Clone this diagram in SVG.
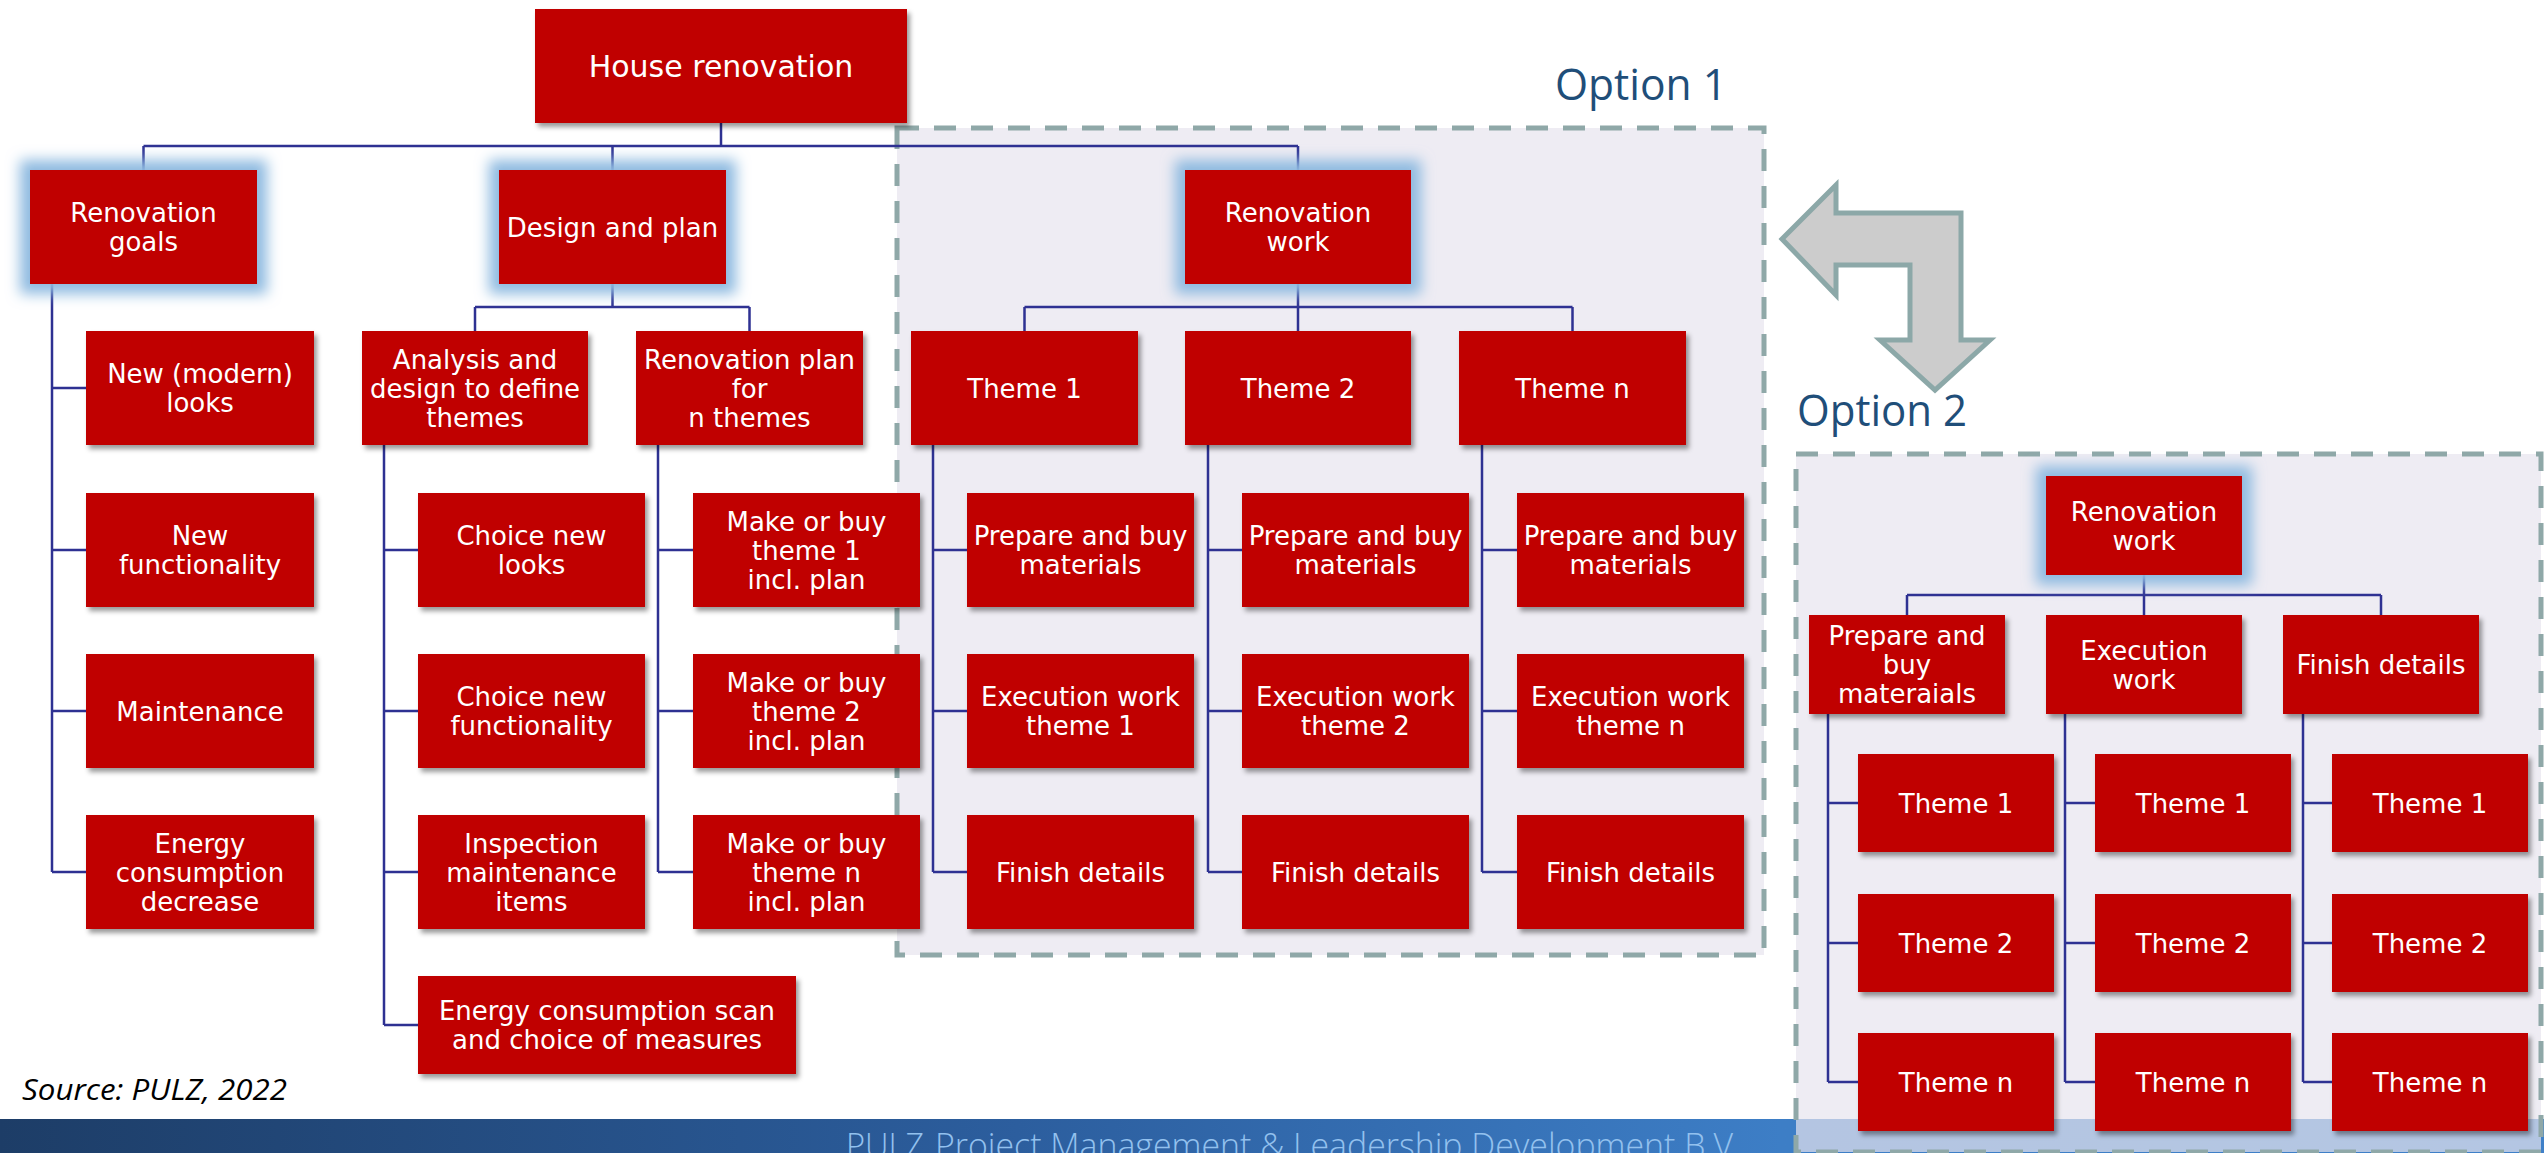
<svg xmlns="http://www.w3.org/2000/svg" width="2544" height="1153" viewBox="0 0 2544 1153">
<defs>
<style>
.n{fill:#C00000}
.t{fill:#FFFFFF;font-family:"DejaVu Sans",Verdana,sans-serif;font-size:26px;text-anchor:middle}
.big{font-size:30px}
.c{fill:none;stroke:#2E3192;stroke-width:2.5}
.opt{fill:#E7E4EE;fill-opacity:0.7;stroke:#8FA8A8;stroke-width:5;stroke-dasharray:22 15}
.ol{fill:#1F4E79;font-family:"Open Sans","Lato",sans-serif;font-size:44px}
</style>
<filter id="glow" x="-35%" y="-50%" width="170%" height="200%">
<feMorphology in="SourceAlpha" operator="dilate" radius="10" result="d"/>
<feGaussianBlur in="d" stdDeviation="7" result="b"/>
<feFlood flood-color="#8EBAE0"/>
<feComposite in2="b" operator="in"/>
<feMerge><feMergeNode/><feMergeNode in="SourceGraphic"/></feMerge>
</filter>
<filter id="sh" x="-10%" y="-10%" width="125%" height="130%">
<feDropShadow dx="3" dy="4" stdDeviation="2.5" flood-color="#000" flood-opacity="0.4"/>
</filter>
<linearGradient id="foot" x1="0" y1="0" x2="1" y2="0">
<stop offset="0" stop-color="#1D3D67"/>
<stop offset="0.4" stop-color="#2C5E9E"/>
<stop offset="0.7" stop-color="#3D7EC6"/>
<stop offset="1" stop-color="#3F80C8"/>
</linearGradient>
</defs>
<rect width="2544" height="1153" fill="#FFFFFF"/>
<g id="footer">
<rect x="0" y="1119" width="2544" height="34" fill="url(#foot)"/>
<text x="846" y="1158" font-family="'Open Sans',sans-serif" font-weight="300" font-size="34" fill="#93C1EE" textLength="78" lengthAdjust="spacingAndGlyphs">PULZ</text>
<text x="935" y="1158" font-family="'Open Sans',sans-serif" font-weight="300" font-size="34" fill="#93C1EE" textLength="798" lengthAdjust="spacingAndGlyphs">Project Management &amp; Leadership Development B.V</text>
</g>
<g id="option1">
<rect class="opt" x="897" y="128" width="867" height="827"/>
<text class="ol" x="1555" y="100" textLength="172" lengthAdjust="spacingAndGlyphs">Option 1</text>
</g>
<g id="option2">
<rect class="opt" x="1796" y="454" width="745" height="698"/>
<text class="ol" x="1797" y="426" textLength="170" lengthAdjust="spacingAndGlyphs">Option 2</text>
</g>
<g id="switch-arrow">
<polygon points="1782,239 1836,185 1836,213 1961,213 1961,340 1990,340 1935,390 1880,340 1910,340 1910,265 1836,265 1836,295" fill="#CCCCCC" stroke="#8CA8A8" stroke-width="5" stroke-linejoin="miter"/>
</g>
<text id="source" x="22" y="1100" font-family="'Open Sans',sans-serif" font-style="italic" font-size="30" fill="#000" textLength="265" lengthAdjust="spacingAndGlyphs">Source: PULZ, 2022</text>
<g id="connectors">
<path class="c" d="M721 123V146M143.5 146H1298M143.5 146V170M612.5 146V170M1298 146V170"/>
<path class="c" d="M52 284V872M52 388H86M52 550H86M52 711H86M52 872H86"/>
<path class="c" d="M612.5 284V307M475 307H749.5M475 307V331M749.5 307V331"/>
<path class="c" d="M384 445V1025M384 550H418M384 711H418M384 872H418M384 1025H418"/>
<path class="c" d="M658 445V872M658 550H693M658 711H693M658 872H693"/>
<path class="c" d="M1298 284V307M1024.5 307H1572.5M1024.5 307V331M1298 307V331M1572.5 307V331"/>
<path class="c" d="M933 445V872M933 550H967M933 711H967M933 872H967"/>
<path class="c" d="M1208 445V872M1208 550H1242M1208 711H1242M1208 872H1242"/>
<path class="c" d="M1482 445V872M1482 550H1517M1482 711H1517M1482 872H1517"/>
<path class="c" d="M2144 575V595M1907 595H2381M1907 595V615M2144 595V615M2381 595V615"/>
<path class="c" d="M1828 714V1082M1828 803H1858M1828 943H1858M1828 1082H1858"/>
<path class="c" d="M2065 714V1082M2065 803H2095M2065 943H2095M2065 1082H2095"/>
<path class="c" d="M2303 714V1082M2303 803H2332M2303 943H2332M2303 1082H2332"/>
</g>
<g id="house-renovation"><rect class="n" filter="url(#sh)" x="535" y="9" width="372" height="114"/><text class="t big" x="721" y="77">House renovation</text></g>
<g id="renovation-goals"><rect class="n" filter="url(#glow)" x="30" y="170" width="227" height="114"/><text class="t" x="143.5" y="222">Renovation</text><text class="t" x="143.5" y="251">goals</text></g>
<g id="design-and-plan"><rect class="n" filter="url(#glow)" x="499" y="170" width="227" height="114"/><text class="t" x="612.5" y="236.5">Design and plan</text></g>
<g id="renovation-work-1"><rect class="n" filter="url(#glow)" x="1185" y="170" width="226" height="114"/><text class="t" x="1298" y="222">Renovation</text><text class="t" x="1298" y="251">work</text></g>
<g id="new-looks"><rect class="n" filter="url(#sh)" x="86" y="331" width="228" height="114"/><text class="t" x="200" y="383">New (modern)</text><text class="t" x="200" y="412">looks</text></g>
<g id="new-functionality"><rect class="n" filter="url(#sh)" x="86" y="493" width="228" height="114"/><text class="t" x="200" y="545">New</text><text class="t" x="200" y="574">functionality</text></g>
<g id="maintenance"><rect class="n" filter="url(#sh)" x="86" y="654" width="228" height="114"/><text class="t" x="200" y="720.5">Maintenance</text></g>
<g id="energy-decrease"><rect class="n" filter="url(#sh)" x="86" y="815" width="228" height="114"/><text class="t" x="200" y="852.5">Energy</text><text class="t" x="200" y="881.5">consumption</text><text class="t" x="200" y="910.5">decrease</text></g>
<g id="analysis"><rect class="n" filter="url(#sh)" x="362" y="331" width="226" height="114"/><text class="t" x="475" y="368.5">Analysis and</text><text class="t" x="475" y="397.5">design to define</text><text class="t" x="475" y="426.5">themes</text></g>
<g id="renovation-plan"><rect class="n" filter="url(#sh)" x="636" y="331" width="227" height="114"/><text class="t" x="749.5" y="368.5">Renovation plan</text><text class="t" x="749.5" y="397.5">for</text><text class="t" x="749.5" y="426.5">n themes</text></g>
<g id="choice-looks"><rect class="n" filter="url(#sh)" x="418" y="493" width="227" height="114"/><text class="t" x="531.5" y="545">Choice new</text><text class="t" x="531.5" y="574">looks</text></g>
<g id="choice-functionality"><rect class="n" filter="url(#sh)" x="418" y="654" width="227" height="114"/><text class="t" x="531.5" y="706">Choice new</text><text class="t" x="531.5" y="735">functionality</text></g>
<g id="inspection"><rect class="n" filter="url(#sh)" x="418" y="815" width="227" height="114"/><text class="t" x="531.5" y="852.5">Inspection</text><text class="t" x="531.5" y="881.5">maintenance</text><text class="t" x="531.5" y="910.5">items</text></g>
<g id="energy-scan"><rect class="n" filter="url(#sh)" x="418" y="976" width="378" height="98"/><text class="t" x="607" y="1020">Energy consumption scan</text><text class="t" x="607" y="1049">and choice of measures</text></g>
<g id="make-buy-1"><rect class="n" filter="url(#sh)" x="693" y="493" width="227" height="114"/><text class="t" x="806.5" y="530.5">Make or buy</text><text class="t" x="806.5" y="559.5">theme 1</text><text class="t" x="806.5" y="588.5">incl. plan</text></g>
<g id="make-buy-2"><rect class="n" filter="url(#sh)" x="693" y="654" width="227" height="114"/><text class="t" x="806.5" y="691.5">Make or buy</text><text class="t" x="806.5" y="720.5">theme 2</text><text class="t" x="806.5" y="749.5">incl. plan</text></g>
<g id="make-buy-n"><rect class="n" filter="url(#sh)" x="693" y="815" width="227" height="114"/><text class="t" x="806.5" y="852.5">Make or buy</text><text class="t" x="806.5" y="881.5">theme n</text><text class="t" x="806.5" y="910.5">incl. plan</text></g>
<g id="o1-theme-1"><rect class="n" filter="url(#sh)" x="911" y="331" width="227" height="114"/><text class="t" x="1024.5" y="397.5">Theme 1</text></g>
<g id="o1-theme-2"><rect class="n" filter="url(#sh)" x="1185" y="331" width="226" height="114"/><text class="t" x="1298" y="397.5">Theme 2</text></g>
<g id="o1-theme-n"><rect class="n" filter="url(#sh)" x="1459" y="331" width="227" height="114"/><text class="t" x="1572.5" y="397.5">Theme n</text></g>
<g id="o1-prepare-1"><rect class="n" filter="url(#sh)" x="967" y="493" width="227" height="114"/><text class="t" x="1080.5" y="545">Prepare and buy</text><text class="t" x="1080.5" y="574">materials</text></g>
<g id="o1-prepare-2"><rect class="n" filter="url(#sh)" x="1242" y="493" width="227" height="114"/><text class="t" x="1355.5" y="545">Prepare and buy</text><text class="t" x="1355.5" y="574">materials</text></g>
<g id="o1-prepare-n"><rect class="n" filter="url(#sh)" x="1517" y="493" width="227" height="114"/><text class="t" x="1630.5" y="545">Prepare and buy</text><text class="t" x="1630.5" y="574">materials</text></g>
<g id="o1-exec-1"><rect class="n" filter="url(#sh)" x="967" y="654" width="227" height="114"/><text class="t" x="1080.5" y="706">Execution work</text><text class="t" x="1080.5" y="735">theme 1</text></g>
<g id="o1-exec-2"><rect class="n" filter="url(#sh)" x="1242" y="654" width="227" height="114"/><text class="t" x="1355.5" y="706">Execution work</text><text class="t" x="1355.5" y="735">theme 2</text></g>
<g id="o1-exec-n"><rect class="n" filter="url(#sh)" x="1517" y="654" width="227" height="114"/><text class="t" x="1630.5" y="706">Execution work</text><text class="t" x="1630.5" y="735">theme n</text></g>
<g id="o1-finish-1"><rect class="n" filter="url(#sh)" x="967" y="815" width="227" height="114"/><text class="t" x="1080.5" y="881.5">Finish details</text></g>
<g id="o1-finish-2"><rect class="n" filter="url(#sh)" x="1242" y="815" width="227" height="114"/><text class="t" x="1355.5" y="881.5">Finish details</text></g>
<g id="o1-finish-n"><rect class="n" filter="url(#sh)" x="1517" y="815" width="227" height="114"/><text class="t" x="1630.5" y="881.5">Finish details</text></g>
<g id="renovation-work-2"><rect class="n" filter="url(#glow)" x="2046" y="476" width="196" height="99"/><text class="t" x="2144" y="520.5">Renovation</text><text class="t" x="2144" y="549.5">work</text></g>
<g id="o2-prepare"><rect class="n" filter="url(#sh)" x="1809" y="615" width="196" height="99"/><text class="t" x="1907" y="645">Prepare and</text><text class="t" x="1907" y="674">buy</text><text class="t" x="1907" y="703">materaials</text></g>
<g id="o2-execution"><rect class="n" filter="url(#sh)" x="2046" y="615" width="196" height="99"/><text class="t" x="2144" y="659.5">Execution</text><text class="t" x="2144" y="688.5">work</text></g>
<g id="o2-finish"><rect class="n" filter="url(#sh)" x="2283" y="615" width="196" height="99"/><text class="t" x="2381" y="674">Finish details</text></g>
<g id="o2-prep-theme-1"><rect class="n" filter="url(#sh)" x="1858" y="754" width="196" height="98"/><text class="t" x="1956" y="812.5">Theme 1</text></g>
<g id="o2-prep-theme-2"><rect class="n" filter="url(#sh)" x="1858" y="894" width="196" height="98"/><text class="t" x="1956" y="952.5">Theme 2</text></g>
<g id="o2-prep-theme-n"><rect class="n" filter="url(#sh)" x="1858" y="1033" width="196" height="98"/><text class="t" x="1956" y="1091.5">Theme n</text></g>
<g id="o2-exec-theme-1"><rect class="n" filter="url(#sh)" x="2095" y="754" width="196" height="98"/><text class="t" x="2193" y="812.5">Theme 1</text></g>
<g id="o2-exec-theme-2"><rect class="n" filter="url(#sh)" x="2095" y="894" width="196" height="98"/><text class="t" x="2193" y="952.5">Theme 2</text></g>
<g id="o2-exec-theme-n"><rect class="n" filter="url(#sh)" x="2095" y="1033" width="196" height="98"/><text class="t" x="2193" y="1091.5">Theme n</text></g>
<g id="o2-fin-theme-1"><rect class="n" filter="url(#sh)" x="2332" y="754" width="196" height="98"/><text class="t" x="2430" y="812.5">Theme 1</text></g>
<g id="o2-fin-theme-2"><rect class="n" filter="url(#sh)" x="2332" y="894" width="196" height="98"/><text class="t" x="2430" y="952.5">Theme 2</text></g>
<g id="o2-fin-theme-n"><rect class="n" filter="url(#sh)" x="2332" y="1033" width="196" height="98"/><text class="t" x="2430" y="1091.5">Theme n</text></g>
</svg>
